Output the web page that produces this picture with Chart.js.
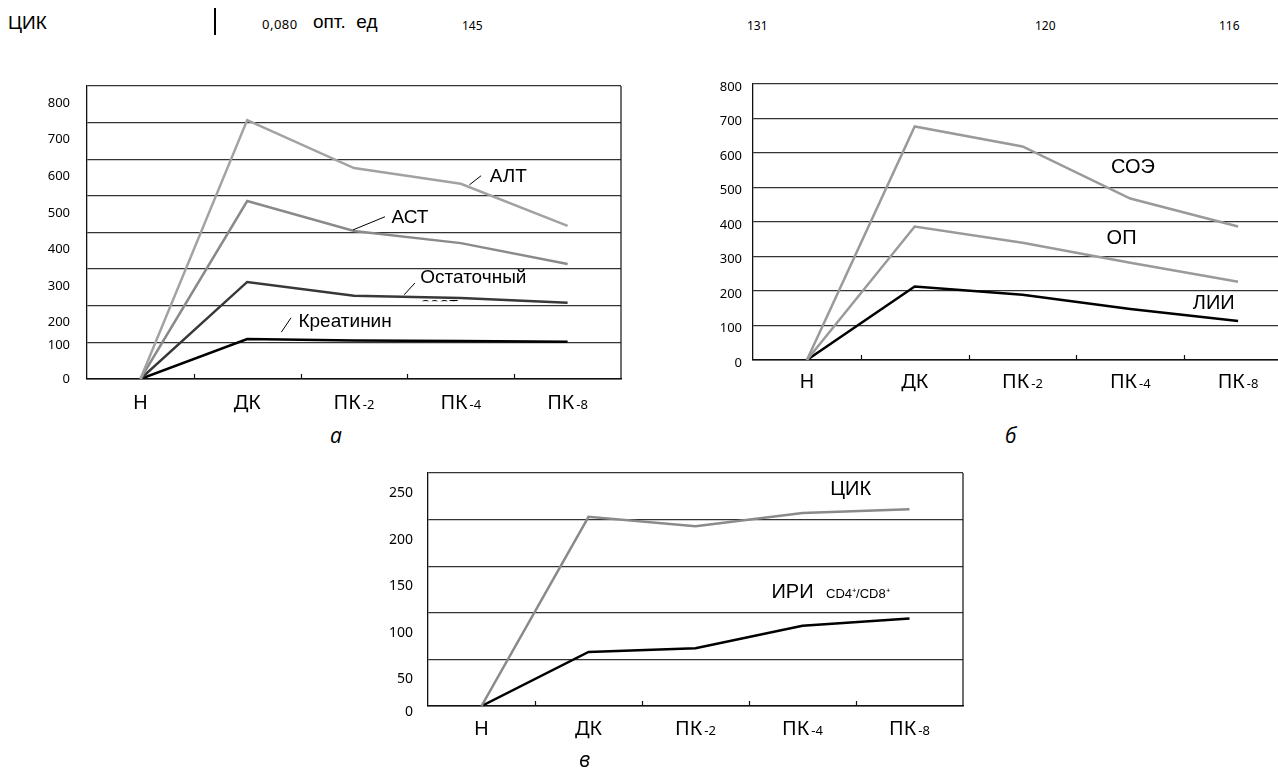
<!DOCTYPE html>
<html>
<head>
<meta charset="utf-8">
<script src="https://cdn.jsdelivr.net/npm/chart.js@4.4.1/dist/chart.umd.min.js"></script>
<style>
  html, body { margin: 0; padding: 0; background: #fff; }
  body { width: 1278px; height: 769px; overflow: hidden; position: relative; }
  .t { position: absolute; white-space: nowrap; color: #000; }
  canvas { position: absolute; }
  .cap { font-family: 'Open Sans', sans-serif; font-style: italic; font-size: 21px; }
</style>
</head>
<body>
<div class="t" style="left:8px;top:12px;font:19px 'Liberation Sans',Arial,sans-serif;">ЦИК</div>
<div style="position:absolute;left:214px;top:8px;width:2px;height:27px;background:#000;"></div>
<div class="t" style="left:262px;top:15px;font:13px 'Noto Sans',sans-serif;letter-spacing:0.5px;">0,080</div>
<div class="t" style="left:313px;top:11px;font:19px 'Liberation Sans',Arial,sans-serif;">опт.&nbsp; ед</div>
<div class="t" style="left:462px;top:17px;font:12px 'Noto Sans',sans-serif;">145</div>
<div class="t" style="left:747px;top:17px;font:12px 'Noto Sans',sans-serif;">131</div>
<div class="t" style="left:1035px;top:17px;font:12px 'Noto Sans',sans-serif;">120</div>
<div class="t" style="left:1219px;top:17px;font:12px 'Noto Sans',sans-serif;">116</div>

<canvas id="chartA" width="640" height="350" style="left:0;top:70px;"></canvas>
<canvas id="chartB" width="640" height="330" style="left:680px;top:70px;"></canvas>
<canvas id="chartV" width="640" height="300" style="left:340px;top:460px;"></canvas>

<div class="t cap" style="left:330px;top:421px;">а</div>
<div class="t cap" style="left:1005px;top:421px;">б</div>
<div class="t cap" style="left:579px;top:745px;">в</div>

<script>
const categories = ['Н', 'ДК', 'ПК-2', 'ПК-4', 'ПК-8'];

// а
const altValues = [0, 707, 576, 533, 418];
const astValues = [0, 486, 404, 371, 314];
const azotValues = [0, 265, 227, 221, 208];
const kreatininValues = [0, 109, 105, 104, 102];
// б
const soeValues = [0, 677, 619, 468, 387];
const opValues = [0, 387, 340, 282, 227];
const liiValues = [0, 213, 189, 148, 113];
// в
const cikValues = [0, 203, 193, 207, 211];
const iriValues = [0, 58, 62, 86, 94];

const yMaxA = 800, yStepA = 100;
const yMaxB = 800, yStepB = 100;
const yMaxV = 250, yStepV = 50;

// draws right border, small x ticks, tick labels and the in-plot captions
const frameAndLabels = {
    id: 'frameAndLabels',
    afterDraw(chart, args, o) {
        const ctx = chart.ctx;
        const a = chart.chartArea;
        const x = chart.scales.x, y = chart.scales.y;
        ctx.save();
        ctx.strokeStyle = '#111';
        ctx.lineWidth = 1.2;
        ctx.beginPath();
        ctx.moveTo(a.right, a.top);
        ctx.lineTo(a.right, a.bottom);
        // category boundaries, ticks pointing up into the plot
        for (let i = 1; i < categories.length; i++) {
            const px = Math.round(x.getPixelForValue(i - 0.5)) + 0.5;
            ctx.moveTo(px, a.bottom);
            ctx.lineTo(px, a.bottom - 5);
        }
        ctx.stroke();

        ctx.fillStyle = '#000';
        ctx.font = o.yFont;
        ctx.textAlign = 'right';
        ctx.textBaseline = 'middle';
        y.ticks.forEach(t => {
            ctx.fillText(t.label, a.left - o.yPad, y.getPixelForValue(t.value) + o.yShift(t.value));
        });

        ctx.textAlign = 'left';
        ctx.textBaseline = 'alphabetic';
        x.ticks.forEach((t, i) => {
            const label = categories[i];
            const k = label.indexOf('-');
            const main = k < 0 ? label : label.slice(0, k);
            const sub = k < 0 ? '' : label.slice(k);
            ctx.font = o.xFont;
            const w1 = ctx.measureText(main).width;
            ctx.font = o.xSubFont;
            const w2 = sub ? ctx.measureText(sub).width + 2 : 0;
            const px = x.getPixelForTick(i) - (w1 + w2) / 2;
            const py = a.bottom + o.xGap;
            ctx.font = o.xFont;
            ctx.fillText(main, px, py);
            if (sub) {
                ctx.font = o.xSubFont;
                ctx.fillText(sub, px + w1 + 2, py);
            }
        });

        (o.notes || []).forEach(n => {
            ctx.save();
            if (n.clipAt !== undefined) {
                ctx.beginPath();
                ctx.rect(a.left, a.top, a.right - a.left, y.getPixelForValue(n.clipAt) - a.top);
                ctx.clip();
            }
            ctx.font = n.font;
            ctx.textBaseline = n.baseline || 'middle';
            ctx.fillText(n.text, x.getPixelForValue(n.x), y.getPixelForValue(n.y));
            ctx.restore();
        });
        ctx.strokeStyle = '#000';
        ctx.lineWidth = 1;
        (o.leaders || []).forEach(l => {
            ctx.beginPath();
            ctx.moveTo(x.getPixelForValue(l[0]), y.getPixelForValue(l[1]));
            ctx.lineTo(x.getPixelForValue(l[2]), y.getPixelForValue(l[3]));
            ctx.stroke();
        });
        ctx.restore();
    }
};

function line(values, color) {
    return {
        data: values,
        borderColor: color,
        borderWidth: 2.5,
        pointRadius: 0,
        tension: 0,
        fill: false
    };
}

function makeChart(id, datasets, yMax, yStep, pad, yWidth, xHeight, labelOpts) {
    return new Chart(document.getElementById(id), {
        type: 'line',
        data: { labels: categories, datasets: datasets },
        options: {
            responsive: false,
            animation: false,
            layout: { padding: pad },
            plugins: {
                legend: { display: false },
                tooltip: { enabled: false },
                frameAndLabels: labelOpts
            },
            scales: {
                x: {
                    offset: true,
                    grid: { display: false },
                    border: { display: true, color: '#111', width: 1.6 },
                    ticks: { display: false },
                    afterFit: s => { s.height = xHeight; }
                },
                y: {
                    min: 0,
                    max: yMax,
                    ticks: { stepSize: yStep, display: false },
                    grid: { color: '#333', lineWidth: 1.3, drawTicks: false },
                    border: { display: true, color: '#111', width: 1.3 },
                    afterFit: s => { s.width = yWidth; }
                }
            }
        },
        plugins: [frameAndLabels]
    });
}

const capFont = "19px 'Liberation Sans', Arial, sans-serif";
const capFontB = "20px 'Liberation Sans', Arial, sans-serif";
const xFont = "20px 'Noto Sans', sans-serif";
const xSubFont = "13px 'Noto Sans', sans-serif";

makeChart('chartA', [
    line(altValues, '#a2a2a2'),
    line(astValues, '#8a8a8a'),
    line(azotValues, '#383838'),
    line(kreatininValues, '#000')
], yMaxA, yStepA, { top: 16, right: 19, left: 0, bottom: 0 }, 87, 41, {
    yFont: "13px 'Noto Sans', sans-serif",
    yPad: 17,
    yShift: v => v >= 200 ? 17 : (v === 100 ? 3 : 0),
    xFont: xFont,
    xSubFont: xSubFont,
    xGap: 30,
    notes: [
        { text: 'АЛТ', x: 3.27, y: 552, font: capFont },
        { text: 'АСТ', x: 2.35, y: 440, font: capFont },
        { text: 'Остаточный', x: 2.62, y: 276, font: capFont },
        { text: 'азот', x: 2.62, y: 229, font: capFont, baseline: 'top', clipAt: 212 },
        { text: 'Креатинин', x: 1.48, y: 156, font: capFont }
    ],
    leaders: [
        [3.08, 530, 3.19, 555],
        [1.99, 407, 2.29, 443],
        [2.47, 230, 2.57, 262],
        [1.32, 128, 1.41, 167]
    ]
});

makeChart('chartB', [
    line(soeValues, '#9a9a9a'),
    line(opValues, '#9a9a9a'),
    line(liiValues, '#000')
], yMaxB, yStepB, { top: 14, right: 28, left: 0, bottom: 0 }, 73, 40, {
    yFont: "13px 'Noto Sans', sans-serif",
    yPad: 11,
    yShift: v => 3,
    xFont: xFont,
    xSubFont: xSubFont,
    xGap: 28,
    notes: [
        { text: 'СОЭ', x: 2.82, y: 558, font: capFontB },
        { text: 'ОП', x: 2.78, y: 352, font: capFontB },
        { text: 'ЛИИ', x: 3.58, y: 163, font: capFontB }
    ]
});

makeChart('chartV', [
    line(cikValues, '#8a8a8a'),
    line(iriValues, '#000')
], yMaxV, yStepV, { top: 13, right: 17, left: 0, bottom: 0 }, 88, 54, {
    yFont: "14px 'Noto Sans', sans-serif",
    yPad: 15,
    yShift: v => v > 0 ? 20 : 6,
    xFont: xFont,
    xSubFont: xSubFont,
    xGap: 29,
    notes: [
        { text: 'ЦИК', x: 3.26, y: 232, font: capFontB },
        { text: 'ИРИ', x: 2.71, y: 116, font: capFontB, baseline: 'alphabetic' },
        { text: 'CD4⁺/CD8⁺', x: 3.22, y: 116, font: "13px 'Liberation Sans', Arial, sans-serif", baseline: 'alphabetic' }
    ]
});
</script>
</body>
</html>
